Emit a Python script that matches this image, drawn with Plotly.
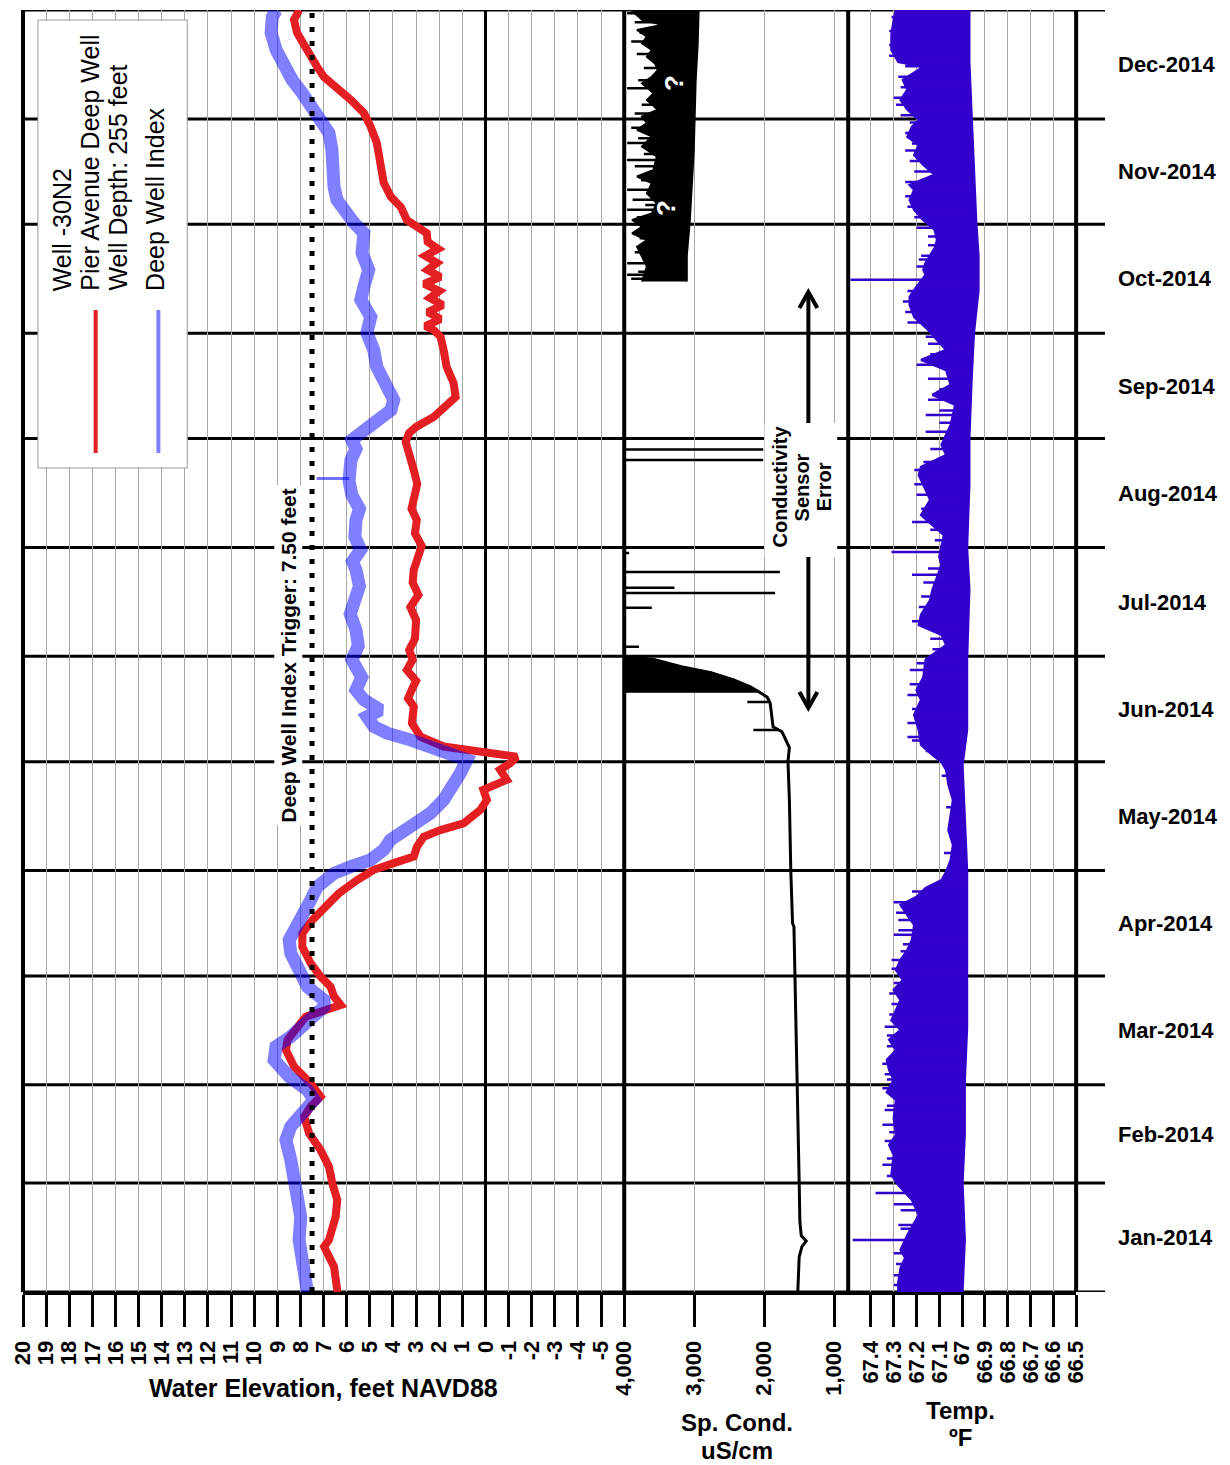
import numpy as np
import pandas as pd
import plotly.graph_objects as go

# ---------------- data (x = days since 2014-01-01) ----------------
red_days = [0, 7.2, 12.9, 14.8, 21.4, 26.2, 30.9, 35.7, 40.4, 45.2, 49.9, 52.8, 55.6, 59.4, 64.2, 68.9,
            71.8, 74.6, 78.4, 81.7, 84.1, 86.9, 89.8, 93.6, 98.3, 102.1, 105.9, 109.7, 113.5, 117.3,
            120.2, 122.1, 124.0, 126.8, 129.6, 131.5, 133.4, 137.2, 140.1, 143.0, 145.8, 148.7, 150.5,
            152.4, 153.8, 155.3, 158.1, 161.9, 166.7, 169, 171.4, 174, 177.1, 180, 182.8, 186, 191.3,
            195, 198.5, 202, 205.6, 209, 212.4, 216, 219.8, 223, 225.5, 230, 234, 237, 239.7, 242,
            244.6, 246.3, 249.1, 252.0, 254.8, 258.8, 263.4, 268.2, 271.9, 273.9, 275, 277, 279, 281,
            283, 285, 287, 289, 291, 293, 295, 297, 299, 301.5, 303.2, 305.2, 308.9, 311.8, 315.8,
            320.3, 327.2, 331.7, 335.7, 339.4, 343.1, 345.9, 348.8, 351.6, 355.6, 358.5, 362.2, 365]
red_ft = [6.40, 6.55, 6.98, 6.77, 6.48, 6.41, 6.62, 6.77, 7.13, 7.63, 7.84, 7.56, 7.13, 7.56, 8.28, 8.63,
          8.56, 8.20, 7.77, 6.26, 6.55, 6.70, 7.13, 7.56, 7.92, 7.92, 7.49, 6.91, 6.34, 5.55,
          4.83, 3.97, 3.10, 2.96, 2.67, 1.95, 0.95, 0.23, -0.06, 0.09, -0.92, -0.63, -1.06,
          -1.35, 0.37, 1.81, 2.81, 3.18, 3.10, 3.35, 3.19, 3.00, 3.40, 3.15, 3.30, 3.05, 3.00,
          3.25, 2.90, 3.15, 3.10, 2.90, 2.76, 3.05, 2.97, 3.20, 3.10, 2.95, 3.10, 3.25, 3.30, 3.45,
          3.30, 3.00, 2.24, 1.81, 1.29, 1.38, 1.68, 1.81, 1.94, 2.24, 2.60, 1.95, 2.50, 1.85,
          2.40, 2.00, 2.65, 1.95, 2.50, 2.10, 2.60, 2.05, 2.50, 2.54, 2.97, 3.40, 3.66, 4.09, 4.40,
          4.53, 4.70, 4.96, 5.26, 5.82, 6.42, 6.98, 7.28, 7.54, 7.84, 8.15, 8.28, 8.06]

blue_days = [0, 7.2, 14.8, 21.4, 30.9, 37.6, 43.3, 47.1, 50.9, 54.7, 57.5, 61.3, 66.1, 69.9, 72.7,
             77.4, 81.2, 83.1, 86.9, 91.7, 96.4, 100.2, 104.0, 107.8, 111.6, 115.4, 119.2, 121.1,
             123.0, 125.9, 128.7, 132.5, 136.3, 140.1, 143.9, 147.7, 151.5, 153.5, 155.3, 157.2,
             159.1, 161.0, 163.8, 165.7, 168.6, 171.4, 175, 180, 184, 188.5, 193, 197, 201, 205.6,
             208, 211.3, 215, 219.8, 223, 226.9, 231.0, 236.9, 240, 242.6, 245.4,
             247.4, 251.1, 254.0, 258.8, 263.4, 268.2, 273.1, 277.6, 282.5, 286.2, 291, 295.8,
             301.5, 304.4, 307.2, 310.9, 314.6, 320.3, 325.2, 330.0, 333.7, 337.4, 341.4, 345.1,
             348.8, 353.6, 358.5, 363.0, 365]
blue_ft = [7.70, 7.84, 8.06, 7.99, 8.20, 8.42, 8.63, 8.42, 7.92, 7.41, 7.70, 8.49, 9.14, 9.06, 8.42,
           7.70, 6.98, 6.98, 7.70, 8.06, 8.42, 8.49, 8.13, 7.92, 7.56, 7.27, 6.55, 5.83,
           4.97, 4.40, 4.11, 3.25, 2.38, 1.81, 1.38, 1.09, 0.80, 1.60, 2.10, 3.25,
           4.25, 4.83, 5.12, 4.54, 5.26, 5.60, 5.35, 5.78, 5.50, 5.60, 5.85, 5.70, 5.45, 5.60,
           5.75, 5.40, 5.65, 5.60, 5.45, 5.78, 5.90, 5.82, 5.60, 5.78, 5.26,
           4.70, 4.09, 3.97, 4.40, 4.70, 4.83, 5.13, 4.96, 5.39, 5.26, 5.05, 5.34,
           5.26, 5.69, 5.99, 6.42, 6.55, 6.55, 6.64, 6.77, 7.11, 7.54, 7.93, 8.36,
           8.71, 9.05, 9.27, 9.22, 9.05]
blue_spike_days = [231.6]
blue_spike_ft = [7.30]

trigger_days = [0, 365]
trigger_ft = [7.50, 7.50]

cond_days = [0, 10, 13, 14.5, 16, 20, 31, 60, 90, 104, 105, 120, 140, 151, 155, 159.5, 160.9, 163.7,
             167.7, 169.4, 170.6, 172.3, 174.3, 176.3, 178.0, 180.0, 180.8]
cond_us = [1520, 1500, 1460, 1400, 1470, 1490, 1500, 1530, 1560, 1575, 1595, 1620, 1640, 1660, 1640,
           1746, 1873, 1887, 1915, 1958, 2050, 2197, 2437, 2761, 3183, 3563, 3887]
cond_dense_days = [170.6, 172.3, 174.3, 176.3, 178.0, 180.0, 180.8]
cond_dense_left = [3965, 3975, 3960, 3970, 3960, 3968, 3955]

cond_band_hi_days = [287.7, 291.9, 294.8, 297.6, 299.5, 301.4, 303.3, 305.2, 307.1, 310.0, 312.8, 315.7,
                     317.6, 319.5, 323.3, 326.1, 329.0, 330.9, 332.8, 334.7, 336.6, 339.4, 341.3,
                     344.1, 346.0, 347.9, 349.8, 351.7, 353.6, 355.5, 357.4, 359.3, 360.8, 362.2, 365]
cond_band_hi = [3746, 3676, 3746, 3817, 3676, 3887, 3746, 3887, 3606, 3535, 3676, 3606,
                3817, 3580, 3535, 3746, 3606, 3817, 3676, 3746, 3520, 3676, 3580,
                3746, 3606, 3520, 3560, 3676, 3606, 3746, 3676, 3817, 3450, 3746, 3900]
cond_band_lo_days = [287.7, 295, 305, 315, 325, 335, 345, 355, 365]
cond_band_lo = [3113, 3113, 3070, 3042, 3014, 3000, 2986, 2958, 2944]

cond_spike_days = [160.0, 168.0, 183.7, 194.8, 199.0, 200.5, 205.0, 210.4, 236.9, 239.9,
                   288.5, 289.6, 290.5, 292.9, 296, 300, 304, 306, 308.1, 309.5, 311, 313.8, 316.5,
                   320.5, 322.3, 324, 327.1, 328.5, 331.5, 335.5, 338, 342.7, 345, 348.5, 352.5, 356,
                   358.5, 361.5, 364.1]
cond_spike_us = [2155, 2240, 3789, 3606, 1845, 3282, 1775, 3930, 2014, 2014,
                 3900, 3958, 3800, 3958, 3850, 3780, 3900, 3820, 3958, 3700, 3880, 3958, 3760,
                 3850, 3958, 3720, 3958, 3800, 3900, 3850, 3750, 3958, 3800, 3720, 3820, 3900,
                 3780, 3850, 3958]
cond_spike_base = [1800, 1930, 4000, 4000, 4000, 4000, 4000, 4000, 4000, 4000,
                   3400, 3400, 3400, 3400, 3400, 3400, 3400, 3400, 3400, 3400, 3400, 3400, 3400,
                   3400, 3400, 3400, 3400, 3400, 3400, 3400, 3400, 3300, 3300, 3300, 3300, 3300,
                   3300, 3300, 3300]

temp_hi_days = [0, 2.6, 6.8, 9.7, 12.0, 16.2, 21.9, 26.2, 30.5, 33.3, 39.0, 41.9, 44.7, 49.5, 54.7, 56.9,
                60.4, 63.2, 66.1, 68.9, 71.8, 74.6, 77.4, 80.3, 83.1, 86.0, 88.8, 91.7, 94.5, 97.4,
                100.2, 104.5, 107.3, 110.2, 112.5, 115.0, 117.3, 119.6, 123.0, 127.3, 131.5, 135.8,
                140.1, 144.4, 148.6, 150.9, 152.9, 155.8, 160.0, 164.3, 168.6, 171.4, 175.0, 180.0,
                184.2, 187.1, 189.9, 192.8, 197.0, 199.9, 207.0, 209.3, 212.7, 215.5, 221.2, 225.5,
                228.4, 232.6, 234.9, 238.3, 241.2, 246.9, 252.6, 255.4, 258.3, 262.5, 265.4, 268.2,
                271.1, 274.0, 277.6, 281.0, 283.3, 286.2, 289.6, 291.0, 293.0, 297.3, 299.5, 302.4,
                305.2, 308.1, 310.9, 313.8, 315.2, 318.1, 320.9, 323.7, 326.6, 328.9, 331.7, 333.7,
                336.6, 339.4, 342.3, 345.1, 348.8, 350.2, 353.6, 357.9, 362.2, 365]
temp_hi = [67.28, 67.28, 67.27, 67.25, 67.27, 67.24, 67.19, 67.22, 67.28, 67.31, 67.30, 67.32, 67.29,
           67.30, 67.29, 67.33, 67.30, 67.32, 67.33, 67.29, 67.32, 67.27, 67.31, 67.29, 67.27, 67.30,
           67.26, 67.29, 67.27, 67.24, 67.22, 67.21, 67.24, 67.27, 67.20, 67.16, 67.09, 67.07, 67.05,
           67.04, 67.06, 67.05, 67.04, 67.06, 67.07, 67.09, 67.13, 67.18, 67.19, 67.21, 67.18, 67.20,
           67.17, 67.16, 67.07, 67.09, 67.19, 67.18, 67.14, 67.13, 67.09, 67.10, 67.09, 67.08, 67.18,
           67.14, 67.16, 67.19, 67.18, 67.07, 67.09, 67.05, 67.03, 67.13, 67.05, 67.07, 67.18, 67.07,
           67.11, 67.15, 67.21, 67.23, 67.23, 67.20, 67.16, 67.17, 67.16, 67.12, 67.11, 67.12, 67.17,
           67.21, 67.23, 67.21, 67.23, 67.12, 67.17, 67.21, 67.19, 67.24, 67.22, 67.19, 67.24, 67.27,
           67.24, 67.26, 67.17, 67.28, 67.31, 67.31, 67.30, 67.29]
temp_lo_days = [0, 15, 31, 45, 60, 75, 90, 105, 120, 135, 150, 160, 180, 200, 212, 230, 243, 260, 273,
                285, 295, 305, 320, 335, 350, 365]
temp_lo = [67.00, 66.99, 67.00, 66.99, 66.99, 66.98, 66.98, 66.98, 66.98, 66.99, 67.00, 66.98, 66.98,
           66.97, 66.98, 66.97, 66.97, 66.96, 66.95, 66.93, 66.93, 66.94, 66.95, 66.96, 66.97, 66.97]
temp_spike_days = [2, 4.8, 8, 11, 14.8, 18, 19.1, 23.3, 25, 28.2, 33, 36.2, 38, 43, 45.5, 47.6, 51.8,
                   53, 58, 60.5, 62, 65, 70, 73, 75.5, 79, 82, 85.0, 88, 92, 94.5, 97, 99, 101.7,
                   103, 105.9, 108, 111, 114, 125, 138, 147, 154, 157, 158.0, 162, 166, 170, 173,
                   177.1, 179, 183, 186, 191, 195, 198, 202, 204.2, 206, 210.7, 214, 217, 219.2, 223,
                   227, 230, 234, 236.3, 240, 244.9, 247.5, 249.7, 251, 254, 257, 260.0, 264, 267,
                   270, 272, 276, 279, 282, 285, 288.2, 292, 294, 295.0, 298, 300.5, 303, 306, 309,
                   312, 316, 319, 322, 325.0, 327, 330, 333, 335, 338, 340.0, 343, 346, 349, 352,
                   355, 359, 363]
temp_spike_f = [67.30, 67.30, 67.29, 67.30, 67.48, 67.27, 67.28, 67.27, 67.30, 67.38, 67.33, 67.35,
                67.33, 67.34, 67.32, 67.35, 67.34, 67.33, 67.35, 67.33, 67.34, 67.35, 67.33, 67.33,
                67.34, 67.32, 67.31, 67.32, 67.30, 67.31, 67.31, 67.27, 67.26, 67.30, 67.28, 67.28,
                67.29, 67.30, 67.22, 67.08, 67.07, 67.09, 67.16, 67.22, 67.24, 67.24, 67.22, 67.24,
                67.23, 67.23, 67.20, 67.13, 67.14, 67.22, 67.19, 67.18, 67.17, 67.22, 67.15, 67.31,
                67.12, 67.14, 67.22, 67.18, 67.20, 67.21, 67.21, 67.17, 67.14, 67.16, 67.10, 67.16,
                67.10, 67.15, 67.10, 67.15, 67.20, 67.14, 67.15, 67.16, 67.24, 67.25, 67.26, 67.24,
                67.49, 67.20, 67.19, 67.18, 67.15, 67.15, 67.20, 67.21, 67.24, 67.25, 67.25, 67.21,
                67.23, 67.25, 67.22, 67.25, 67.23, 67.27, 67.29, 67.30, 67.27, 67.28, 67.25, 67.32,
                67.32, 67.32, 67.31]

elev_ticks = list(range(20, -6, -1))
elev_ticktext = [str(v) for v in elev_ticks]
cond_ticks = [4000, 3000, 2000, 1000]
cond_ticktext = ["4,000", "3,000", "2,000", "1,000"]
temp_ticks = [67.4, 67.3, 67.2, 67.1, 67.0, 66.9, 66.8, 66.7, 66.6, 66.5]
temp_ticktext = ["67.4", "67.3", "67.2", "67.1", "67", "66.9", "66.8", "66.7", "66.6", "66.5"]

# ---------------- helpers ----------------
START = pd.Timestamp("2014-01-01")


def to_dates(days):
    return [START + pd.Timedelta(days=float(d)) for d in days]


def segments(days, vals, bases):
    xs, ys = [], []
    for d, v, b in zip(days, vals, bases):
        t = START + pd.Timedelta(days=float(d))
        xs += [b, v, None]
        ys += [t, t, None]
    return xs, ys


month_starts = pd.date_range("2014-01-01", "2015-01-01", freq="MS")
month_mid = [month_starts[i] + (month_starts[i + 1] - month_starts[i]) / 2 for i in range(12)]
month_text = [d.strftime("%b-%Y") for d in month_starts[:-1]]

W, H = 1230, 1465
ML, MR, MT, MB = 18, 125, 10, 173
PW, PH = W - ML - MR, H - MT - MB


def PX(x):
    return (x - ML) / PW


def PY(y):
    return (MT + PH - y) / PH


RED = "#e41f23"
BLUE = "rgba(0,0,255,0.5)"
TEMPC = "#3300cc"
FONT = "Liberation Sans, Arial, sans-serif"

fig = go.Figure()

# elevation panel
fig.add_trace(go.Scatter(x=red_ft, y=to_dates(red_days), mode="lines", xaxis="x", yaxis="y",
                         line=dict(color=RED, width=8), name="Pier Avenue Deep Well"))
fig.add_trace(go.Scatter(x=blue_ft, y=to_dates(blue_days), mode="lines", xaxis="x", yaxis="y",
                         line=dict(color=BLUE, width=13), name="Deep Well Index"))
bb = list(np.interp(blue_spike_days, blue_days, blue_ft))
bx, by = segments(blue_spike_days, blue_spike_ft, bb)
fig.add_trace(go.Scatter(x=bx, y=by, mode="lines", xaxis="x", yaxis="y",
                         line=dict(color="rgba(0,0,255,0.55)", width=3)))
fig.add_trace(go.Scatter(x=trigger_ft, y=to_dates(trigger_days), mode="lines", xaxis="x", yaxis="y",
                         line=dict(color="black", width=5, dash="5px,9px"), name="Trigger"))

# conductivity panel
fig.add_trace(go.Scatter(x=cond_dense_left, y=to_dates(cond_dense_days), mode="lines", xaxis="x2",
                         yaxis="y", line=dict(color="black", width=2)))
mask = [d >= cond_dense_days[0] for d in cond_days]
fig.add_trace(go.Scatter(x=[v for v, m in zip(cond_us, mask) if m],
                         y=to_dates([d for d, m in zip(cond_days, mask) if m]), mode="lines",
                         xaxis="x2", yaxis="y", line=dict(color="black", width=2),
                         fill="tonextx", fillcolor="black"))
fig.add_trace(go.Scatter(x=cond_us, y=to_dates(cond_days), mode="lines", xaxis="x2", yaxis="y",
                         line=dict(color="black", width=3)))
fig.add_trace(go.Scatter(x=cond_band_lo, y=to_dates(cond_band_lo_days), mode="lines", xaxis="x2",
                         yaxis="y", line=dict(color="black", width=3)))
fig.add_trace(go.Scatter(x=cond_band_hi, y=to_dates(cond_band_hi_days), mode="lines", xaxis="x2",
                         yaxis="y", line=dict(color="black", width=2), fill="tonextx", fillcolor="black"))
sx, sy = segments(cond_spike_days, cond_spike_us, cond_spike_base)
fig.add_trace(go.Scatter(x=sx, y=sy, mode="lines", xaxis="x2", yaxis="y",
                         line=dict(color="black", width=2.5)))

# temperature panel
fig.add_trace(go.Scatter(x=temp_lo, y=to_dates(temp_lo_days), mode="lines", xaxis="x3", yaxis="y",
                         line=dict(color=TEMPC, width=3)))
fig.add_trace(go.Scatter(x=temp_hi, y=to_dates(temp_hi_days), mode="lines", xaxis="x3", yaxis="y",
                         line=dict(color=TEMPC, width=2.5), fill="tonextx", fillcolor=TEMPC))
tb = list(np.interp(temp_spike_days, temp_lo_days, temp_lo))
tx, ty = segments(temp_spike_days, temp_spike_f, tb)
fig.add_trace(go.Scatter(x=tx, y=ty, mode="lines", xaxis="x3", yaxis="y",
                         line=dict(color=TEMPC, width=2.5)))

# ---------------- axes ----------------
d1, d2, d3 = PX(622), PX(847), PX(1076)
common = dict(ticks="outside", ticklen=32, tickwidth=3, tickcolor="black", tickangle=-90,
              tickfont=dict(size=22, color="black", family=FONT, weight="bold"),
              showline=True, linecolor="black", linewidth=3, showgrid=True,
              gridcolor="#a8a8a8", gridwidth=1, anchor="y", ticklabelstandoff=5)
fig.update_layout(
    xaxis=dict(domain=[0, d1], range=[20, -6], tickmode="array", tickvals=elev_ticks,
               ticktext=elev_ticktext, zeroline=True, zerolinecolor="black", zerolinewidth=3, **common),
    xaxis2=dict(domain=[d1, d2], range=[4000, 800], tickmode="array", tickvals=cond_ticks,
                ticktext=cond_ticktext, zeroline=False, **common),
    xaxis3=dict(domain=[d2, d3], range=[67.5, 66.5], tickmode="array", tickvals=temp_ticks,
                ticktext=temp_ticktext, zeroline=False, **common),
    yaxis=dict(type="date", range=[month_starts[0], month_starts[-1]], anchor="free", position=1.0,
               side="right", tickmode="array", tickvals=month_mid, ticktext=month_text, ticks="",
               showgrid=False, zeroline=False, showline=False, ticklabelstandoff=12,
               tickfont=dict(size=22, color="black", family=FONT, weight="bold")),
)

# ---------------- shapes ----------------
shapes = []
for d in month_starts:
    shapes.append(dict(type="line", xref="paper", yref="y", x0=0, x1=1, y0=d, y1=d,
                       line=dict(color="black", width=3), layer="between"))
for ref, xv in [("x domain", 0), ("x2 domain", 0), ("x3 domain", 0), ("x3 domain", 1)]:
    shapes.append(dict(type="line", xref=ref, yref="paper", x0=xv, x1=xv, y0=0, y1=1,
                       line=dict(color="black", width=4), layer="between"))
# legend box
shapes.append(dict(type="rect", xref="paper", yref="paper", x0=PX(33), x1=PX(183), y0=PY(468), y1=PY(20),
                   line=dict(color="#9a9a9a", width=1), fillcolor="white", layer="above"))
shapes.append(dict(type="line", xref="paper", yref="paper", x0=PX(91), x1=PX(91), y0=PY(310), y1=PY(453),
                   line=dict(color=RED, width=4), layer="above"))
shapes.append(dict(type="line", xref="paper", yref="paper", x0=PX(154), x1=PX(154), y0=PY(310), y1=PY(453),
                   line=dict(color=BLUE, width=4), layer="above"))
# double arrow
ax = 807
shapes.append(dict(type="line", xref="paper", yref="paper", x0=PX(ax), x1=PX(ax), y0=PY(293), y1=PY(707),
                   line=dict(color="black", width=4), layer="above"))
shapes.append(dict(type="path", xref="paper", yref="paper",
                   path=f"M {PX(ax-9)},{PY(308)} L {PX(ax)},{PY(292)} L {PX(ax+9)},{PY(308)}",
                   line=dict(color="black", width=4), layer="above"))
shapes.append(dict(type="path", xref="paper", yref="paper",
                   path=f"M {PX(ax-9)},{PY(692)} L {PX(ax)},{PY(708)} L {PX(ax+9)},{PY(692)}",
                   line=dict(color="black", width=4), layer="above"))
shapes.append(dict(type="rect", xref="paper", yref="paper", x0=PX(763), x1=PX(836), y0=PY(557), y1=PY(423),
                   line=dict(width=0), fillcolor="white", layer="above"))

# ---------------- annotations ----------------
ann = []


def A(text, x, y, size, bold=False, angle=0, color="black", xa="center", ya="middle", bg=None):
    d = dict(text=text, x=PX(x), y=PY(y), xref="paper", yref="paper", showarrow=False,
             xanchor=xa, yanchor=ya, textangle=angle,
             font=dict(size=size, color=color, family=FONT, weight="bold" if bold else "normal"))
    if bg:
        d["bgcolor"] = bg
        d["borderpad"] = 2
    ann.append(d)


A("Well -30N2", 57, 293, 25, angle=-90, ya="bottom")
A("Pier Avenue Deep Well", 85, 293, 25, angle=-90, ya="bottom")
A("Well Depth: 255 feet", 113, 293, 25, angle=-90, ya="bottom")
A("Deep Well Index", 150, 293, 25, angle=-90, ya="bottom")
A("Deep Well Index Trigger: 7.50 feet", 285, 655, 21, bold=True, angle=-90, bg="white")
A("Conductivity", 778, 487, 20, bold=True, angle=-90)
A("Sensor", 801, 487, 20, bold=True, angle=-90)
A("Error", 823, 487, 20, bold=True, angle=-90)
A("?", 672, 83, 26, bold=True, angle=-90, color="white")
A("?", 664, 208, 26, bold=True, angle=-90, color="white")
A("Water Elevation, feet NAVD88", 320, 1388, 25, bold=True)
A("Sp. Cond.", 735, 1422, 24, bold=True)
A("uS/cm", 735, 1450, 24, bold=True)
A("Temp.", 960, 1410, 24, bold=True)
A("ºF", 960, 1437, 24, bold=True)

fig.update_layout(width=W, height=H, margin=dict(l=ML, r=MR, t=MT, b=MB),
                  paper_bgcolor="white", plot_bgcolor="white", showlegend=False,
                  font=dict(family=FONT, color="black"), shapes=shapes, annotations=ann)

fig.write_html("out.html")
